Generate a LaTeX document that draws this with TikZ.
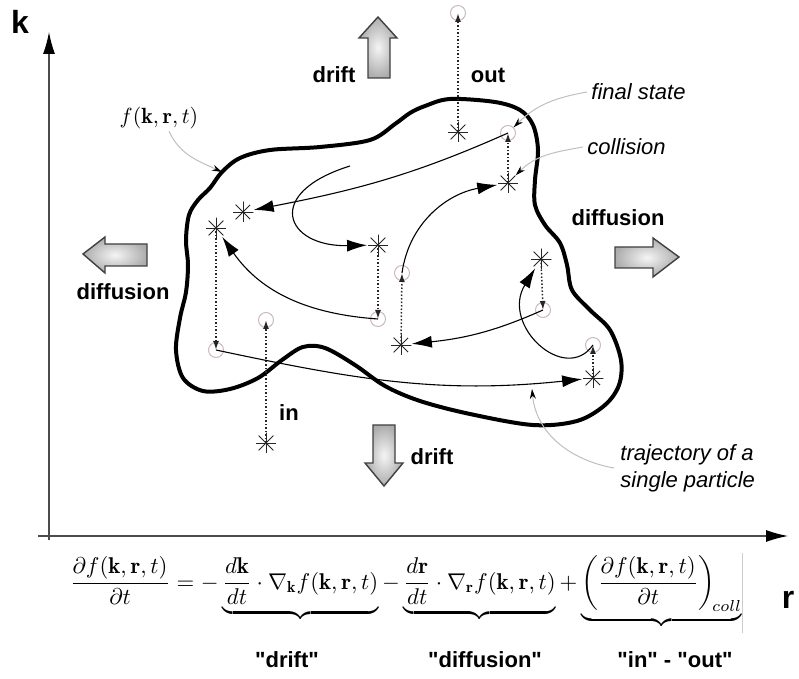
\documentclass[tikz,border=0pt]{standalone}
\usepackage{fontspec}
\usepackage{graphicx}
\setsansfont{Liberation Sans}
\newfontfamily\labfont{Liberation Sans}[Ligatures=TeXOff]
\usetikzlibrary{arrows.meta}
\definecolor{circgray}{RGB}{205,185,185}
\begin{document}
\begin{tikzpicture}[x=0.5pt,y=0.5pt,
  blobline/.style={line width=2pt, line join=round},
  ast/.style={circle, inner sep=0pt, minimum size=10.5pt,
    path picture={\foreach \a in {0,45,...,315}{\draw[line width=0.45pt,black!85] (path picture bounding box.center) -- ++(\a:5.25pt);}}},
  circ/.style={circle, draw=circgray, line width=0.5pt, inner sep=0pt, minimum size=7.5pt},
  dotarr/.style={densely dotted, line width=0.75pt, black!85, -{Latex[length=4.5pt,width=3pt]}},
  traj/.style={line width=0.55pt, -{Latex[length=10pt,width=6pt]}},
  ann/.style={gray!50, line width=0.5pt, -{Stealth[black,length=5pt,width=3pt]}},
  barrow/.style={draw=black!75, line width=0.7pt, inner color=gray!8, outer color=gray!65},
  axis/.style={black!70, line width=0.6pt, -{Latex[black,length=11pt,width=6pt]}},
  lab/.style={font=\labfont\bfseries\fontsize{11}{13}\selectfont, inner sep=0pt},
  itlab/.style={font=\sffamily\itshape\fontsize{11}{13.5}\selectfont, inner sep=0pt, align=left},
  biglab/.style={font=\sffamily\bfseries\fontsize{16}{18}\selectfont, inner sep=0pt}
]
\useasboundingbox (0,0) rectangle (799,-679);

% axes
\coordinate (ko) at (49,-540);
\coordinate (kt) at (49,-32);
\coordinate (ro) at (38,-536);
\coordinate (rt) at (788,-536);
\draw[axis] (ko) -- (kt);
\draw[axis] (ro) -- (rt);
\node[biglab] (klab) at (20,-22) {k};
\node[biglab] (rlab) at (788,-600) {r};

% distribution boundary
\draw[blobline] plot[smooth cycle, tension=0.55] coordinates {
(198,-200) (210,-188) (222,-172) (240,-158) (270,-150) (320,-147) (370,-140)
(395,-124) (410,-113) (425,-106) (450,-99) (495,-102) (520,-110) (533,-125)
(538,-150) (535,-180) (535,-205) (545,-225) (560,-243) (567,-265) (572,-290)
(590,-310) (610,-330) (621,-360) (619,-385) (605,-405) (577,-421) (533,-425)
(470,-414) (420,-401) (385,-386) (355,-365) (325,-348) (303,-347) (282,-360)
(258,-378) (230,-389) (203,-391) (183,-378) (176,-350) (180,-318) (186,-292)
(188,-265) (186,-240) (189,-215)};

% block arrows
\draw[barrow] (378,-17) -- (397,-38) -- (390,-38) -- (390,-78) -- (368,-78) -- (368,-38) -- (359,-38) -- cycle;
\draw[barrow] (373,-425) -- (395,-425) -- (395,-463) -- (403,-463) -- (384,-486) -- (365,-463) -- (373,-463) -- cycle;
\draw[barrow] (83,-254) -- (105,-237) -- (105,-244) -- (147,-244) -- (147,-266) -- (105,-266) -- (105,-273) -- cycle;
\draw[barrow] (615,-247) -- (653,-247) -- (653,-238) -- (679,-257) -- (653,-277) -- (653,-268) -- (615,-268) -- cycle;

% labels
\node[lab] (ldrift1) at (334,-75) {drift};
\node[lab] (lout) at (488,-75) {out};
\node[lab] (ldiff1) at (123,-292) {diffusion};
\node[lab] (ldiff2) at (618,-218) {diffusion};
\node[lab] (lin) at (289,-413) {in};
\node[lab] (ldrift2) at (432,-457) {drift};
\node[itlab, anchor=west] (fin) at (591,-92) {final state};
\node[itlab, anchor=west] (col) at (587,-147) {collision};
\node[itlab, anchor=west] (trlab) at (620,-468) {trajectory of a\\single particle};
\node[inner sep=0pt, font=\fontsize{11}{13}\selectfont] (flab) at (159,-118) {$f(\mathbf{k},\mathbf{r},t)$};

% circles
\node[circ] (cOut) at (458,-13) {};
\node[circ] (cFin) at (508,-133) {};
\node[circ] (cA) at (378,-319) {};
\node[circ] (cL) at (216,-350) {};
\node[circ] (cIn) at (266,-320) {};
\node[circ] (cM) at (402,-273) {};
\node[circ] (cR) at (543,-310) {};
\node[circ] (cRR) at (593,-345) {};

% asterisks
\node[ast] (sOut) at (458,-132) {};
\node[ast] (sCol) at (508,-183) {};
\node[ast] (sTL) at (243,-212) {};
\node[ast] (sL) at (216,-228) {};
\node[ast] (sB) at (378,-245) {};
\node[ast] (sRU) at (541,-259) {};
\node[ast] (sM) at (401,-345) {};
\node[ast] (sRR) at (593,-378) {};
\node[ast] (sIn) at (266,-443) {};

% collisions (dotted)
\draw[dotarr] (sOut.center) -- (cOut.center);
\draw[dotarr] (sCol.center) -- (cFin.center);
\draw[dotarr] (sL.center) -- (cL.center);
\draw[dotarr] (sB.center) -- (cA.center);
\draw[dotarr] (sIn.center) -- (cIn.center);
\draw[dotarr] (sM.center) -- (cM.center);
\draw[dotarr] (sRU.center) -- (cR.center);
\draw[dotarr] (sRR.center) -- (cRR.center);

% trajectories
\coordinate (hp) at (350,-166);
\draw[traj] (hp) .. controls (263,-193) and (285,-247) .. (sB);
\draw[traj] (cL.center) to[out=-12,in=186] (sRR);
\draw[traj] (cA.center) to[out=176,in=-55] (sL);
\draw[traj] (cFin.center) to[out=204,in=11] (sTL);
\draw[traj] (cM.center) to[out=82,in=190] (sCol);
\draw[traj] (cR.center) to[out=204,in=6] (sM);
\draw[traj] (cRR.center) .. controls (565,-385) and (500,-325) .. (sRU);

% annotations
\coordinate (fb) at (222,-172);
\coordinate (tt) at (532,-389);
\draw[ann] ([xshift=5pt,yshift=-1pt]flab.south) to[out=-65,in=155] (fb);
\draw[ann] ([xshift=-2pt]fin.west) to[out=190,in=45] (cFin);
\draw[ann] ([xshift=-2pt]col.west) to[out=190,in=45] (sCol);
\draw[ann] ([xshift=-3pt]trlab.west) to[out=170,in=-85] (tt);

% equation
\node[anchor=base, inner sep=0pt] (eq) at (406,-589) {\scalebox{1.14}{$\displaystyle
\frac{\partial f(\mathbf{k},\mathbf{r},t)}{\partial t}
= -\underbrace{\frac{d\mathbf{k}}{dt}\cdot\nabla_{\mathbf{k}} f(\mathbf{k},\mathbf{r},t)}
-\underbrace{\frac{d\mathbf{r}}{dt}\cdot\nabla_{\mathbf{r}} f(\mathbf{k},\mathbf{r},t)}
+\underbrace{\left(\frac{\partial f(\mathbf{k},\mathbf{r},t)}{\partial t}\right)_{\!coll}}$}};
\coordinate (bar1) at (742,-553);
\coordinate (bar2) at (742,-633);
\draw[gray!40, line width=0.5pt] (bar1) -- (bar2);
\node[lab] (qdrift) at (287,-660) {"drift"};
\node[lab] (qdiff) at (485,-660) {"diffusion"};
\node[lab] (qinout) at (675,-660) {"in" - "out"};
\end{tikzpicture}
\end{document}
